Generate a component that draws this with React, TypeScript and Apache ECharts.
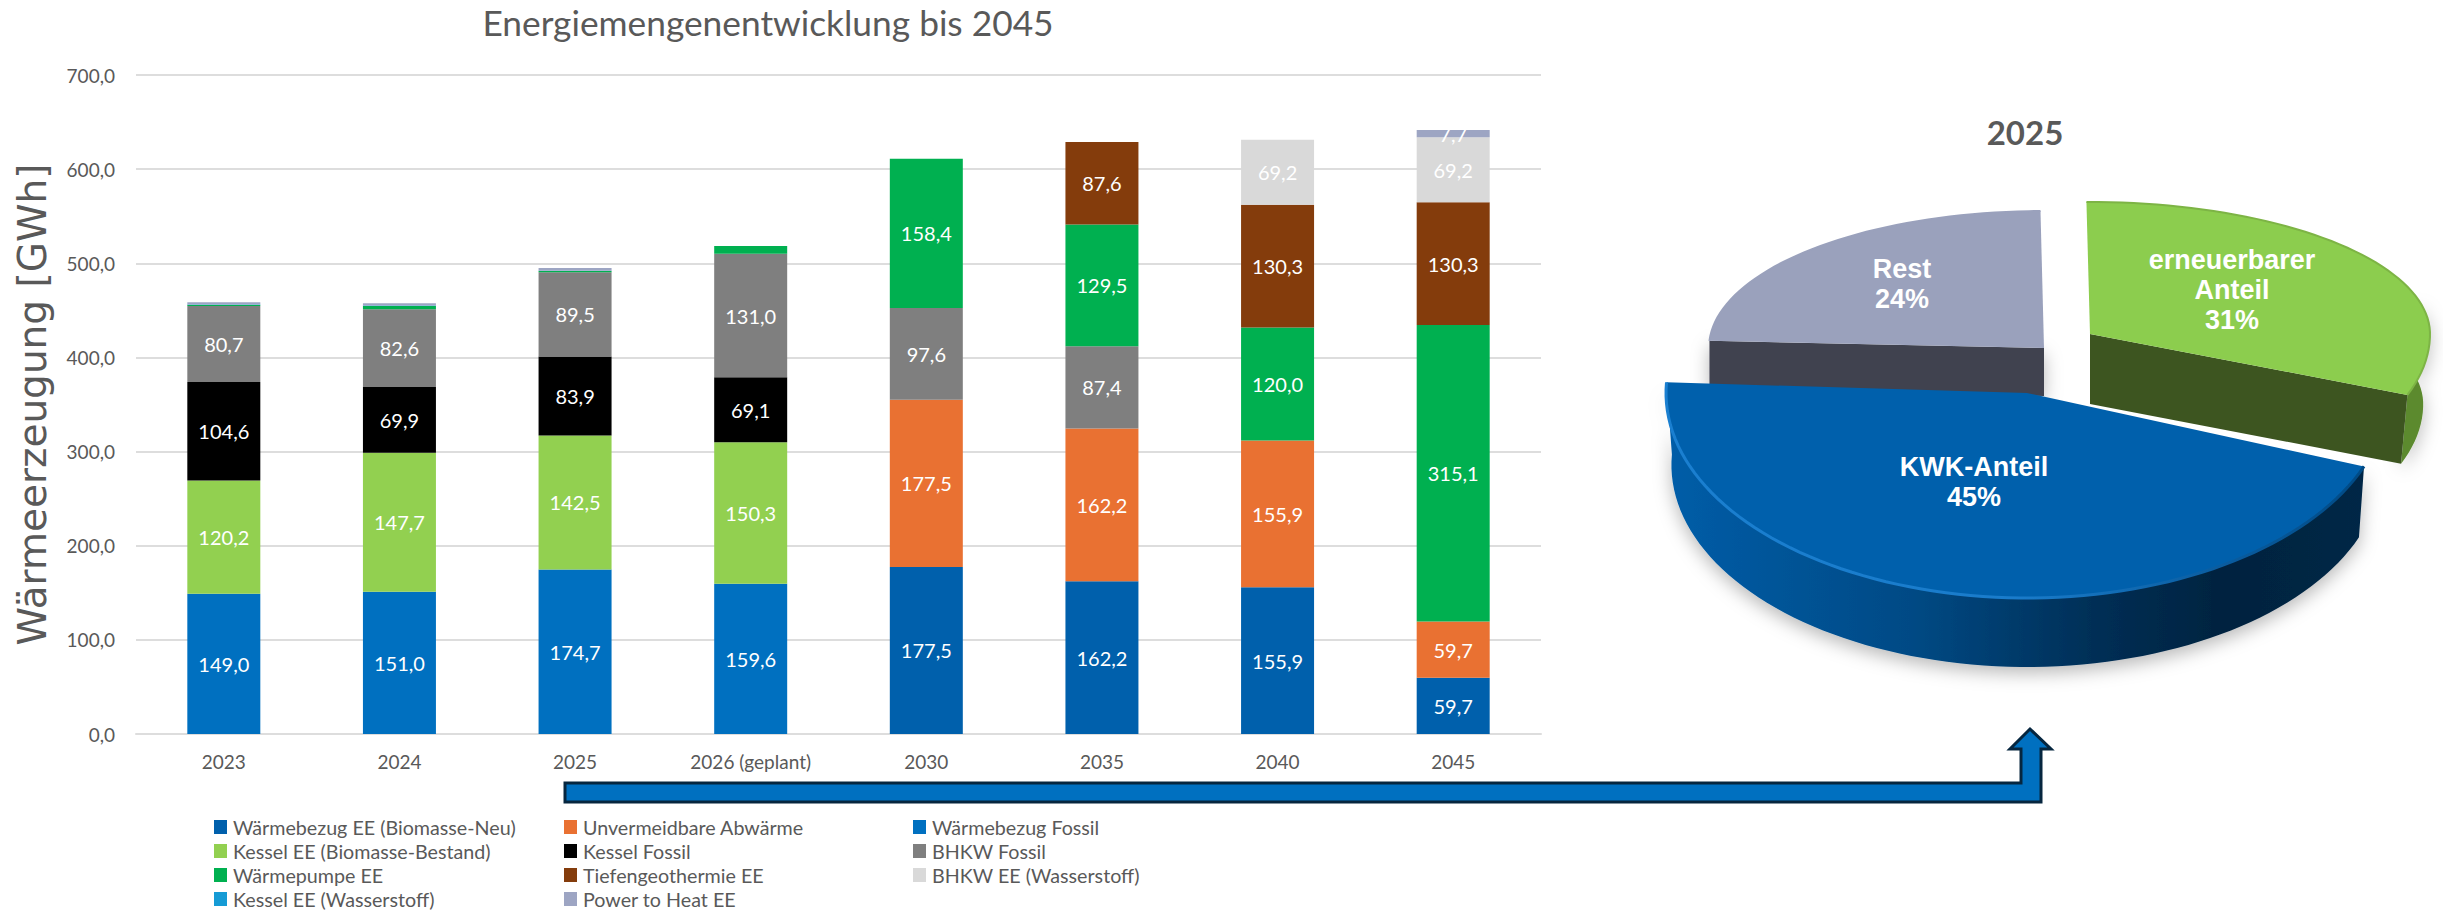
import React, { useEffect, useRef } from "react";
import * as echarts from "echarts";

const categories = ["2023", "2024", "2025", "2026 (geplant)", "2030", "2035", "2040", "2045"];

const biomasseNeu = [null, null, null, null, 177.5, 162.2, 155.9, 59.7];
const abwaerme = [null, null, null, null, 177.5, 162.2, 155.9, 59.7];
const bezugFossil = [149.0, 151.0, 174.7, 159.6, null, null, null, null];
const kesselBestand = [120.2, 147.7, 142.5, 150.3, null, null, null, null];
const kesselFossil = [104.6, 69.9, 83.9, 69.1, null, null, null, null];
const bhkwFossil = [80.7, 82.6, 89.5, 131.0, 97.6, 87.4, null, null];
const waermepumpe = [1.2, 3.5, 1.2, 8.4, 158.4, 129.5, 120.0, 315.1];
const tiefengeothermie = [null, null, null, null, null, 87.6, 130.3, 130.3];
const bhkwWasserstoff = [null, null, null, null, null, null, 69.2, 69.2];
const kesselWasserstoff = [0.4, 0.4, 0.4, null, null, null, null, null];
const powerToHeat = [2.6, 2.4, 2.8, null, null, null, null, 7.7];

const seriesDefs = [
  { name: "Wärmebezug EE (Biomasse-Neu)", values: biomasseNeu, color: "#0060AC", minLabel: 10 },
  { name: "Unvermeidbare Abwärme", values: abwaerme, color: "#E97132", minLabel: 10 },
  { name: "Wärmebezug Fossil", values: bezugFossil, color: "#0070C0", minLabel: 10 },
  { name: "Kessel EE (Biomasse-Bestand)", values: kesselBestand, color: "#92D050", minLabel: 10 },
  { name: "Kessel Fossil", values: kesselFossil, color: "#000000", minLabel: 10 },
  { name: "BHKW Fossil", values: bhkwFossil, color: "#7F7F7F", minLabel: 10 },
  { name: "Wärmepumpe EE", values: waermepumpe, color: "#00B050", minLabel: 10 },
  { name: "Tiefengeothermie EE", values: tiefengeothermie, color: "#843C0C", minLabel: 10 },
  { name: "BHKW EE (Wasserstoff)", values: bhkwWasserstoff, color: "#D9D9D9", minLabel: 10 },
  { name: "Kessel EE (Wasserstoff)", values: kesselWasserstoff, color: "#169BD5", minLabel: 10 },
  { name: "Power to Heat EE", values: powerToHeat, color: "#9DA5C3", minLabel: 5 },
];

const legendColumns = [
  ["Wärmebezug EE (Biomasse-Neu)", "Kessel EE (Biomasse-Bestand)", "Wärmepumpe EE", "Kessel EE (Wasserstoff)"],
  ["Unvermeidbare Abwärme", "Kessel Fossil", "Tiefengeothermie EE", "Power to Heat EE"],
  ["Wärmebezug Fossil", "BHKW Fossil", "BHKW EE (Wasserstoff)"],
];
const legendLefts = [214, 564, 913];

// Pie, clockwise, starting at the back-left edge
const pieLabels = ["Rest", "erneuerbarer\nAnteil", "KWK-Anteil"];
const pieValues = [24, 31, 45];
const pieStartAngle = -87;

const pieGeometry = [
  { cx: 2044, cy: 348, a: 335, bBack: 137, bFront: 137, depth: 48, inset: 1, top: "#9AA1BC",
    face: "#3F4250", wall: "#3F4250", rim: "#9AA1BC", wallFrom: 0, labelX: 1902, labelY: 284 },
  { cx: 2090, cy: 334, a: 340, bBack: 132, bFront: 170, depth: 70, inset: 0.98, top: "#8CCD4E",
    face: "#3D5520", wall: "#5C8A2E", rim: "#7DB445", wallFrom: 75, labelX: 2232, labelY: 290 },
  { cx: 2027, cy: 393, a: 361, bBack: 205, bFront: 205, depth: 72, inset: 0.985, top: "#0060AC",
    face: "#003A6B", wall: "blue", rim: "blue", wallFrom: 0, labelX: 1974, labelY: 482 },
];

const arrowPoints = [
  [565, 783], [2021, 783], [2021, 749], [2010, 749], [2030, 729],
  [2051, 749], [2041, 749], [2041, 802], [565, 802],
];

const fontFamily = "Lato";
const textColor = "#595959";

function ringPoint(g: any, deg: number, lower = false) {
  const t = (deg * Math.PI) / 180;
  const c = Math.cos(t);
  const dx = g.a * Math.sin(t);
  const dy = c > 0 ? -g.bBack * c : -g.bFront * c;
  return lower ? [g.cx + dx * g.inset, g.cy + dy * g.inset + g.depth] : [g.cx + dx, g.cy + dy];
}

function arcPoints(g: any, from: number, to: number, lower = false) {
  const pts: number[][] = [];
  const steps = Math.max(2, Math.ceil(Math.abs(to - from) / 2));
  for (let i = 0; i <= steps; i++) pts.push(ringPoint(g, from + ((to - from) * i) / steps, lower));
  return pts;
}

function renderSlice(params: any) {
  const i = params.dataIndex;
  const total = pieValues.reduce((s, v) => s + v, 0);
  const before = pieValues.slice(0, i).reduce((s, v) => s + v, 0);
  const start = pieStartAngle + (before / total) * 360;
  const end = start + (pieValues[i] / total) * 360;
  const g = pieGeometry[i];
  const center = [g.cx, g.cy];
  const centerLow = [g.cx, g.cy + g.depth];
  const children: any[] = [];

  const wallFill =
    g.wall === "blue"
      ? {
          type: "linear", x: 0, y: 0, x2: 1, y2: 0,
          colorStops: [
            { offset: 0, color: "#005DA8" },
            { offset: 0.35, color: "#004A85" },
            { offset: 0.62, color: "#002E55" },
            { offset: 0.8, color: "#00233F" },
            { offset: 1, color: "#002746" },
          ],
        }
      : g.wall;
  const rimStroke =
    g.rim === "blue"
      ? {
          type: "linear", x: 0, y: 0, x2: 1, y2: 0,
          colorStops: [
            { offset: 0, color: "#1A7FD0" },
            { offset: 0.5, color: "#1A7CCB" },
            { offset: 0.8, color: "#0A5C9F" },
            { offset: 1, color: "#004A85" },
          ],
        }
      : g.rim;

  const shadow = { shadowBlur: 18, shadowColor: "rgba(0,0,0,0.28)", shadowOffsetY: 6 };

  if (i !== 0) {
    const from = Math.max(start, g.wallFrom);
    children.push({
      type: "polygon",
      shape: { points: [...arcPoints(g, from, end), ...arcPoints(g, end, from, true)] },
      style: { fill: wallFill, ...shadow },
    });
  }
  const faceAngle = i === 0 ? start : end;
  if (i !== 2) {
    children.push({
      type: "polygon",
      shape: { points: [center, ringPoint(g, faceAngle), ringPoint(g, faceAngle, true), centerLow] },
      style: { fill: g.face, ...(i === 0 ? shadow : {}) },
    });
  }
  children.push({
    type: "polygon",
    shape: { points: [center, ...arcPoints(g, start, end)] },
    style: { fill: g.top },
  });
  children.push({
    type: "polyline",
    shape: { points: arcPoints(g, start, end) },
    style: { stroke: rimStroke, lineWidth: i === 2 ? 3 : 2, fill: "none" },
  });
  children.push({
    type: "text",
    style: {
      text: `${pieLabels[i]}\n${pieValues[i]}%`,
      x: g.labelX,
      y: g.labelY,
      fill: "#FFFFFF",
      fontFamily: "Liberation Sans",
      fontWeight: "bold",
      fontSize: 27,
      lineHeight: 30,
      align: "center",
      verticalAlign: "middle",
    },
  });
  return { type: "group", children };
}

const commaFormat = (v: number) => v.toFixed(1).replace(".", ",");

export default function App() {
  const ref = useRef<HTMLDivElement>(null);

  useEffect(() => {
    document.body.style.margin = "0";
    const chart = echarts.init(ref.current!, undefined, { renderer: "svg" });
    chart.setOption({
      animation: false,
      backgroundColor: "#FFFFFF",
      title: [
        {
          text: "Energiemengenentwicklung bis 2045",
          left: 768,
          top: 5,
          padding: 0,
          textAlign: "center",
          textStyle: { fontFamily, fontSize: 35.3, fontWeight: "normal", color: textColor },
        },
        {
          text: "2025",
          left: 2020,
          top: 110,
          textAlign: "center",
          textStyle: { fontFamily, fontSize: 33, fontWeight: "bold", color: textColor },
        },
      ],
      grid: { left: 136, top: 75, width: 1405, height: 659, outerBoundsMode: "none" },
      legend: legendColumns.map((data, i) => ({
        data,
        orient: "vertical",
        left: legendLefts[i],
        top: 817,
        padding: 0,
        itemWidth: 13,
        itemHeight: 14,
        itemGap: 4,
        icon: "rect",
        selectedMode: false,
        textStyle: { fontFamily, fontSize: 19.7, color: textColor, lineHeight: 19, padding: [0, 0, 0, 1] },
      })),
      xAxis: {
        type: "category",
        data: categories,
        axisTick: { show: false },
        axisLine: { lineStyle: { color: "#DDDDDD", width: 2 } },
        axisLabel: { fontFamily, fontSize: 19, color: textColor, margin: 18 },
      },
      yAxis: {
        type: "value",
        min: 0,
        max: 700,
        interval: 100,
        name: "Wärmeerzeugung [GWh]",
        nameLocation: "middle",
        nameGap: 84,
        nameTextStyle: { fontFamily: "DejaVu Sans", fontSize: 39, color: textColor },
        axisLine: { show: false },
        axisTick: { show: false },
        splitLine: { lineStyle: { color: "#DDDDDD", width: 2 } },
        axisLabel: { fontFamily, fontSize: 19, color: textColor, margin: 21, formatter: commaFormat },
      },
      series: [
        ...seriesDefs.map((s) => ({
          type: "bar",
          name: s.name,
          stack: "total",
          barWidth: 73,
          itemStyle: { color: s.color },
          data: s.values.map((v) => ({
            value: v,
            label: { show: v != null && v >= s.minLabel },
          })),
          label: {
            position: "inside",
            color: "#FFFFFF",
            fontFamily,
            fontSize: 20,
            formatter: (p: any) => commaFormat(p.value),
          },
        })),
        {
          type: "custom",
          name: "2025",
          coordinateSystem: "none",
          renderItem: renderSlice,
          data: pieValues,
          silent: true,
          z: 5,
        },
      ],
      graphic: [
        {
          type: "polygon",
          shape: { points: arrowPoints },
          style: { fill: "#0070C0", stroke: "#06263F", lineWidth: 3 },
          z: 10,
        },
      ],
    });
    return () => chart.dispose();
  }, []);

  return <div ref={ref} style={{ position: "absolute", left: 0, top: 0, width: 2443, height: 913 }} />;
}
